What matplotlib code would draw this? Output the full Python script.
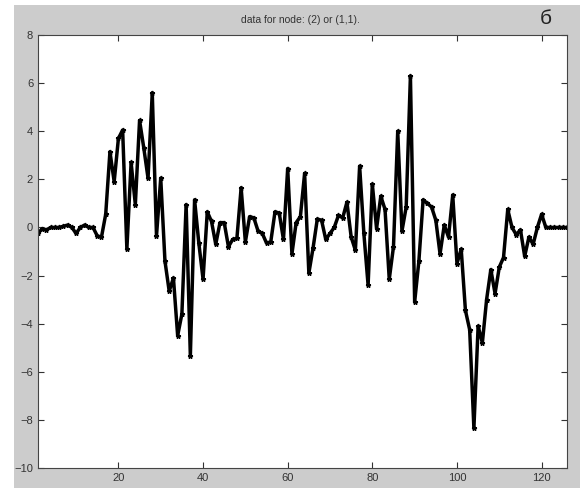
import numpy as np
import matplotlib.pyplot as plt
from matplotlib.patches import Rectangle

plt.rcParams['font.family'] = ['Liberation Sans', 'DejaVu Sans']

# node (2) signal, one sample per index
sample = np.arange(1, 127)
values = [
    -0.25, -0.05, -0.1, 0.0, 0.0, 0.0, 0.05, 0.1, 0.0, -0.25,
    0.0, 0.1, 0.0, 0.0, -0.35, -0.4, 0.55, 3.15, 1.9, 3.7,
    4.05, -0.9, 2.7, 0.95, 4.45, 3.3, 2.05, 5.6, -0.35, 2.05,
    -1.4, -2.65, -2.1, -4.5, -3.6, 0.95, -5.35, 1.15, -0.65, -2.15,
    0.65, 0.25, -0.7, 0.2, 0.2, -0.8, -0.5, -0.45, 1.65, -0.6,
    0.45, 0.4, -0.15, -0.25, -0.65, -0.6, 0.65, 0.6, -0.5, 2.45,
    -1.1, 0.2, 0.45, 2.25, -1.9, -0.85, 0.35, 0.3, -0.5, -0.25,
    0.0, 0.5, 0.4, 1.05, -0.4, -0.95, 2.55, -0.25, -2.4, 1.8,
    -0.05, 1.3, 0.75, -2.15, -0.8, 4.0, -0.15, 0.85, 6.3, -3.1,
    -1.4, 1.15, 1.0, 0.85, 0.3, -1.1, 0.1, -0.4, 1.35, -1.5,
    -0.9, -3.45, -4.25, -8.35, -4.1, -4.8, -3.0, -1.75, -2.75, -1.65,
    -1.25, 0.75, 0.0, -0.3, -0.1, -1.2, -0.4, -0.7, 0.0, 0.55,
    0.0, 0.0, 0.0, 0.0, 0.0, 0.0,
]
xticks = [20, 40, 60, 80, 100, 120]
yticks = [-10, -8, -6, -4, -2, 0, 2, 4, 6, 8]

W, H = 582, 490
fig = plt.figure(figsize=(W / 100, H / 100), dpi=100, facecolor='white')

# grey figure panel with a thin white border
fig.patches.append(Rectangle((14 / W, 1 - 488 / H), (580 - 14) / W, (488 - 5) / H,
                             transform=fig.transFigure, facecolor='#cccccc',
                             edgecolor='none', zorder=-5))

ax = fig.add_axes([38 / W, 1 - 468 / H, (567 - 38) / W, (468 - 35) / H])
ax.set_zorder(2)
ax.plot(sample, values, color='black', linewidth=2.5, marker='*', markersize=3.5)

ax.set_xlim(1, 126)
ax.set_ylim(-10, 8)
ax.set_xticks(xticks)
ax.set_yticks(yticks)
ax.tick_params(direction='in', top=True, right=True, length=4, width=0.8,
               labelsize=8, labelcolor='#333333', color='#333333')
for s in ax.spines.values():
    s.set_color('#444444')
    s.set_linewidth(0.8)

fig.text(300 / W, 1 - 20 / H, 'data for node: (2) or (1,1).', ha='center', va='center',
         fontsize=7.5, color='#333333')
fig.text(546 / W, 1 - 18 / H, 'б', ha='center', va='center', fontsize=15, color='#222222')

fig.savefig('out.png', dpi=100, facecolor=fig.get_facecolor())
